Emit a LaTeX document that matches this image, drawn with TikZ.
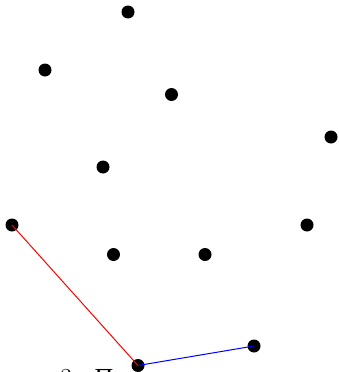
\documentclass[tikz,border=0pt]{standalone}
\usepackage{fontspec}
\newfontfamily\cyr{Liberation Serif}
\begin{document}
\begin{tikzpicture}[x=1pt,y=-1pt,
  pt/.style={circle,fill=black,inner sep=0pt,minimum size=13pt},
  redline/.style={red,line width=1pt},
  blueline/.style={blue,line width=1pt}]
\useasboundingbox (0,0) rectangle (338,372);
\clip (0,0) rectangle (338,372);
\node[pt] (p1) at (128,12) {};
\node[pt] (p2) at (45,70) {};
\node[pt] (p3) at (171.5,94.5) {};
\node[pt] (p4) at (331,137) {};
\node[pt] (p5) at (103,167) {};
\node[pt] (p6) at (12,225) {};
\node[pt] (p7) at (307,225) {};
\node[pt] (p8) at (113.5,254.5) {};
\node[pt] (p9) at (205,254.5) {};
\node[pt] (p10) at (254,346) {};
\node[pt] (p11) at (138,365.5) {};
\draw[redline] (p6.center) -- (p11.center);
\draw[blueline] (p11.center) -- (p10.center);
\node[anchor=north west,inner sep=0pt,font=\fontsize{26}{30}\selectfont] (t) at (60,369.5) {3.\hspace{16pt}{\cyr П}};
\end{tikzpicture}
\end{document}
